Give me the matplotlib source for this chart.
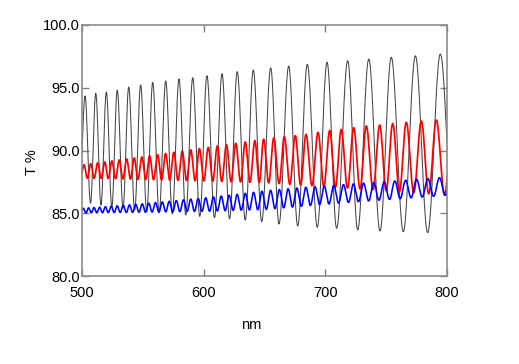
import numpy as np
import matplotlib
matplotlib.use("Agg")
import matplotlib.pyplot as plt

plt.rcParams['font.family'] = ['Liberation Sans', 'DejaVu Sans']

# ---- data: extrema (wavelength nm, T %) ----
black_peak_nm = [502.5, 511.3, 520.0, 529.0, 538.4, 548.2, 558.1, 568.8, 579.7, 591.0,
                 602.7, 615.1, 627.6, 640.8, 655.1, 669.9, 685.2, 701.4, 718.4, 735.7,
                 754.2, 774.0, 794.5]
black_peak_T = [94.34, 94.56, 94.66, 94.82, 95.06, 95.22, 95.43, 95.54, 95.70, 95.80,
                95.96, 96.12, 96.28, 96.41, 96.58, 96.73, 96.87, 97.03, 97.16, 97.29,
                97.43, 97.55, 97.69]
black_trough_nm = [497.8, 507.0, 515.6, 524.5, 533.7, 543.3, 553.2, 563.4, 574.2, 585.3,
                   596.8, 608.9, 621.3, 634.2, 647.7, 661.9, 677.3, 693.4, 709.3, 726.6,
                   744.9, 764.1, 784.1, 805.5]
black_trough_T = [85.90, 85.80, 85.66, 85.50, 85.40, 85.26, 85.12, 85.04, 84.95, 84.86,
                  84.75, 84.65, 84.55, 84.45, 84.33, 84.14, 83.98, 83.88, 83.80, 83.67,
                  83.59, 83.53, 83.45, 83.40]

red_peak_nm = [501.6, 507.2, 512.9, 518.7, 524.6, 530.6, 536.7, 542.9, 549.2, 555.6,
               562.1, 568.7, 575.5, 582.4, 589.4, 596.5, 603.8, 611.2, 618.7, 626.4,
               634.2, 642.1, 649.3, 657.6, 666.3, 675.3, 684.1, 694.0, 703.6, 713.1,
               723.3, 733.7, 744.7, 755.4, 766.5, 778.9, 791.2, 804.5]
red_peak_T = [88.87, 88.95, 89.02, 89.09, 89.17, 89.25, 89.33, 89.41, 89.49, 89.58,
              89.67, 89.76, 89.86, 89.95, 90.05, 90.15, 90.25, 90.36, 90.46, 90.57,
              90.68, 90.79, 90.90, 91.00, 91.10, 91.18, 91.29, 91.45, 91.60, 91.68,
              91.82, 91.96, 92.03, 92.15, 92.25, 92.35, 92.43, 92.50]
red_trough_nm = [498.8, 504.4, 510.0, 515.8, 521.6, 527.6, 533.6, 539.8, 546.0, 552.4,
                 558.8, 565.4, 572.1, 578.9, 585.9, 592.9, 600.1, 607.5, 614.9, 622.5,
                 630.3, 638.1, 645.7, 653.4, 662.0, 670.8, 679.7, 689.0, 698.8, 708.3,
                 718.2, 728.5, 739.2, 750.0, 760.9, 772.7, 785.0, 798.0]
red_trough_T = [87.80, 87.79, 87.78, 87.77, 87.76, 87.75, 87.73, 87.72, 87.70, 87.69,
                87.67, 87.66, 87.64, 87.62, 87.60, 87.59, 87.57, 87.55, 87.53, 87.51,
                87.49, 87.47, 87.45, 87.42, 87.36, 87.30, 87.25, 87.20, 87.12, 87.06,
                87.00, 86.94, 86.88, 86.80, 86.72, 86.64, 86.55, 86.45]

blue_peak_nm = [501.0, 505.4, 509.9, 514.5, 519.2, 524.0, 528.9, 533.9, 539.0, 544.2,
                549.5, 554.9, 560.4, 566.0, 571.7, 577.5, 583.4, 589.4, 595.5, 601.7,
                608.0, 614.4, 620.9, 627.5, 634.2, 641.0, 647.9, 655.0, 662.2, 669.4,
                676.6, 684.0, 691.5, 699.1, 706.9, 714.9, 723.1, 731.4, 739.8, 748.4,
                757.1, 766.0, 775.0, 784.3, 793.8, 803.5]
blue_peak_T = [85.40, 85.43, 85.46, 85.49, 85.52, 85.56, 85.59, 85.63, 85.67, 85.71,
               85.75, 85.80, 85.85, 85.90, 85.95, 86.01, 86.07, 86.13, 86.18, 86.23,
               86.30, 86.37, 86.44, 86.51, 86.59, 86.67, 86.75, 86.83, 86.89, 86.95,
               87.01, 87.07, 87.12, 87.17, 87.22, 87.28, 87.34, 87.40, 87.45, 87.51,
               87.57, 87.63, 87.70, 87.76, 87.83, 87.90]
blue_trough_nm = [498.8, 503.2, 507.65, 512.2, 516.85, 521.6, 526.45, 531.4, 536.45, 541.6,
                  546.85, 552.2, 557.65, 563.2, 568.85, 574.6, 580.45, 586.4, 592.45, 598.6,
                  604.85, 611.2, 617.65, 624.2, 630.85, 637.6, 644.45, 651.45, 658.6, 665.8,
                  673.0, 680.3, 687.75, 695.3, 703.0, 710.9, 719.0, 727.25, 735.6, 744.1,
                  752.75, 761.55, 770.5, 779.65, 789.05, 798.65]
blue_trough_T = [85.02, 85.02, 85.03, 85.03, 85.04, 85.05, 85.05, 85.06, 85.06, 85.07,
                 85.08, 85.08, 85.09, 85.10, 85.11, 85.12, 85.13, 85.14, 85.14, 85.15,
                 85.16, 85.18, 85.20, 85.22, 85.24, 85.26, 85.28, 85.30, 85.37, 85.43,
                 85.49, 85.55, 85.62, 85.69, 85.74, 85.80, 85.86, 85.92, 85.98, 86.04,
                 86.10, 86.16, 86.23, 86.29, 86.35, 86.42]

x_ticks = [500, 600, 700, 800]
y_ticks = [80.0, 85.0, 90.0, 95.0, 100.0]


def smooth_through(ex_nm, ex_T, n=24):
    """Draw a smooth (half-cosine) path through successive extrema."""
    order = np.argsort(ex_nm)
    xs = np.asarray(ex_nm)[order]
    ys = np.asarray(ex_T)[order]
    px, py = [], []
    t = np.linspace(0, 1, n, endpoint=False)
    for i in range(len(xs) - 1):
        w = (1 - np.cos(np.pi * t)) / 2
        px.append(xs[i] + (xs[i + 1] - xs[i]) * t)
        py.append(ys[i] + (ys[i + 1] - ys[i]) * w)
    px.append([xs[-1]])
    py.append([ys[-1]])
    return np.concatenate(px), np.concatenate(py)


fig = plt.figure(figsize=(5.19, 3.64), dpi=100)
ax = fig.add_axes([82 / 519, 88 / 364, 365 / 519, 251 / 364])

bx, by = smooth_through(black_peak_nm + black_trough_nm, black_peak_T + black_trough_T)
rx, ry = smooth_through(red_peak_nm + red_trough_nm, red_peak_T + red_trough_T)
ux, uy = smooth_through(blue_peak_nm + blue_trough_nm, blue_peak_T + blue_trough_T)

ax.plot(bx, by, color='#454545', lw=0.75)
ax.plot(rx, ry, color='#ff0000', lw=1.25)
ax.plot(ux, uy, color='#0000ff', lw=1.15)

ax.set_xlim(500, 800)
ax.set_ylim(80, 100)
ax.set_xticks(x_ticks)
ax.set_yticks(y_ticks)
ax.set_yticklabels([f"{v:.1f}" for v in y_ticks])
ax.tick_params(direction='in', length=5, width=1, color='#808080',
               top=True, right=True, labelsize=10.5, labelcolor='black')
ax.tick_params(axis='y', pad=1.5)
ax.tick_params(axis='x', pad=7)
for s in ax.spines.values():
    s.set_color('#8c8c8c')
    s.set_linewidth(1.2)

ax.set_xlabel('nm', fontsize=10.5)
ax.set_ylabel('T %', fontsize=10.5)
ax.xaxis.set_label_coords(0.463, -0.167)
ax.yaxis.set_label_coords(-0.118, 0.454)

fig.savefig('out.png', dpi=100)
